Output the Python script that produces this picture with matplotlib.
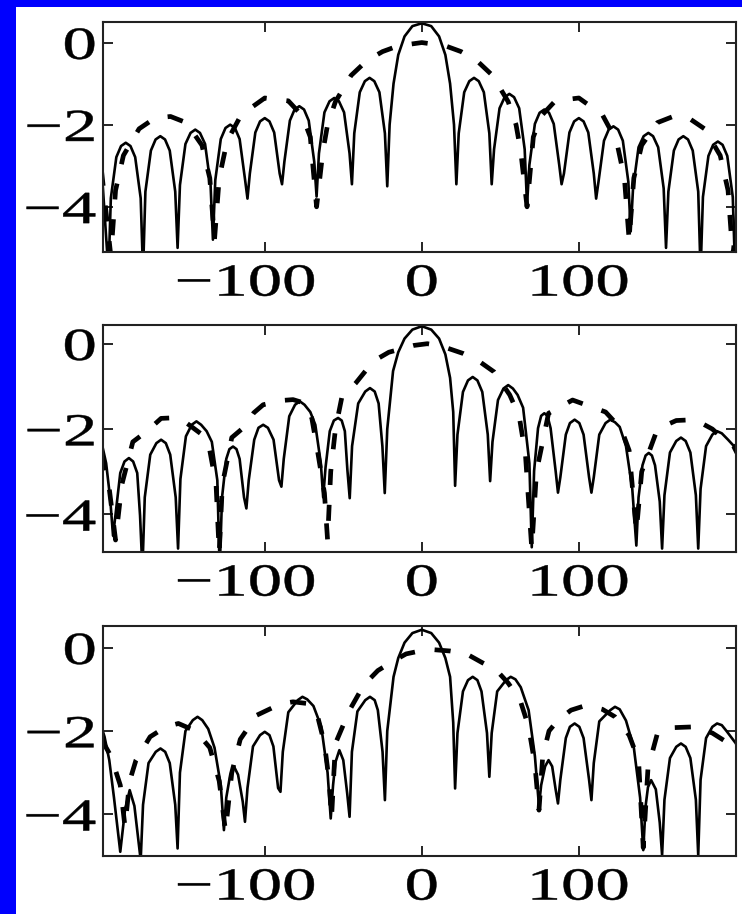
import matplotlib
matplotlib.use('Agg')
import matplotlib.pyplot as plt
import matplotlib.patheffects as pe
from matplotlib.transforms import Affine2D
from matplotlib.patches import Rectangle

plt.rcParams['font.family'] = ['Liberation Serif', 'DejaVu Serif']

# ---- data (x, log level) ----
p1_solid_x = [-204, -199.5,
              -198, -194.5, -191.5, -188.5, -185.5, -182.5, -179, -177.5,
              -176, -172.5, -169.5, -166.5, -163.5, -160.5, -157, -155.5,
              -154, -150.5, -147.25, -144.25, -141.25, -138, -134.5, -133,
              -131.5, -128, -125, -122, -119, -116, -112.5, -111,
              -109.5, -106, -103, -100, -97, -94, -90.5, -89,
              -87.5, -84, -81, -78, -75, -72, -68.5, -67,
              -65.5, -62, -58.75, -55.75, -52.75, -49.5, -46, -44.5,
              -43, -39.5, -36.25, -33.25, -30.25, -27, -23.5, -22,
              -20.5, -18, -15, -11, -6, 0, 6, 11, 15, 18, 20.5, 22,
              23.5, 27, 30.25, 33.25, 36.25, 39.5, 43, 44.5,
              46, 49.5, 52.75, 55.75, 58.75, 62, 65.5, 67,
              68.5, 72, 75, 78, 81, 84, 87.5, 89,
              90.5, 94, 97, 100, 103, 106, 109.5, 111,
              112.5, 116, 119, 122, 125, 128, 131.5, 133,
              134.5, 138, 141.25, 144.25, 147.25, 150.5, 154, 155.5,
              157, 160.5, 163.5, 166.5, 169.5, 172.5, 176, 177.5,
              179, 182.5, 185.5, 188.5, 191.5, 194.5, 198, 199.5,
              204]
p1_solid_y = [-3.0, -5.6,
              -3.79, -2.79, -2.52, -2.44, -2.52, -2.79, -3.79, -5.6,
              -3.63, -2.63, -2.36, -2.28, -2.36, -2.63, -3.63, -5.0,
              -3.47, -2.47, -2.2, -2.12, -2.2, -2.47, -3.47, -4.8,
              -3.35, -2.35, -2.08, -2.0, -2.08, -2.35, -3.35, -3.8,
              -3.19, -2.19, -1.92, -1.84, -1.92, -2.19, -3.19, -3.45,
              -2.9, -1.9, -1.63, -1.55, -1.63, -1.9, -2.9, -3.75,
              -2.7, -1.7, -1.43, -1.35, -1.43, -1.7, -2.7, -3.45,
              -2.21, -1.21, -0.94, -0.86, -0.94, -1.21, -2.21, -3.5,
              -2.0, -1.0, -0.3, 0.15, 0.4, 0.47, 0.4, 0.15, -0.3, -1.0, -2.0, -3.45,
              -2.21, -1.21, -0.94, -0.86, -0.94, -1.21, -2.21, -3.45,
              -2.6, -1.6, -1.33, -1.25, -1.33, -1.6, -2.6, -3.95,
              -2.98, -1.98, -1.71, -1.63, -1.71, -1.98, -2.98, -3.45,
              -3.19, -2.19, -1.92, -1.84, -1.92, -2.19, -3.19, -3.8,
              -3.39, -2.39, -2.12, -2.04, -2.12, -2.39, -3.39, -4.6,
              -3.55, -2.55, -2.28, -2.2, -2.28, -2.55, -3.55, -5.0,
              -3.63, -2.63, -2.36, -2.28, -2.36, -2.63, -3.63, -5.6,
              -3.76, -2.76, -2.49, -2.41, -2.49, -2.76, -3.76, -5.6,
              -3.0]
p1_dash_x = [-204, -198, -195, -190, -180, -170, -160, -150, -140, -135,
             -132, -129, -124, -115, -100, -85, -76, -71, -67, -63,
             -60, -55, -45, -35, -25, -15, 0, 15, 25, 35,
             45, 55, 60, 63, 67, 71, 76, 85, 100, 115,
             124, 129, 132, 135, 140, 150, 160, 170, 180, 190,
             195, 198, 204]
p1_dash_y = [-3.1, -5.2, -3.6, -2.75, -2.1, -1.84, -1.8, -1.95, -2.5, -3.3,
             -4.8, -3.3, -2.4, -1.76, -1.35, -1.42, -1.79, -2.3, -4.0, -2.65,
             -2.0, -1.44, -0.8, -0.44, -0.22, -0.08, 0.0, -0.08, -0.22, -0.44,
             -0.8, -1.44, -2.0, -2.65, -4.0, -2.3, -1.79, -1.42, -1.35, -1.76,
             -2.4, -3.3, -4.8, -3.3, -2.5, -1.95, -1.8, -1.84, -2.1, -2.75,
             -3.6, -5.2, -3.1]

p2_solid_x = [-204, -201, -198.5, -196.6,
              -195.1, -192, -189.3, -186.5, -183.8, -181.2, -179.4, -177.9,
              -176.4, -172.9, -169, -166, -163, -160.2, -156.7, -155.2,
              -153.7, -150.2, -146.5, -143.5, -140.5, -137, -133.7, -130.2, -128.7,
              -127.2, -124.5, -122.5, -120.2, -118, -116, -113.2, -111.7,
              -110.2, -106.7, -104, -101, -98, -94.4, -90.9, -89.4,
              -87.9, -84.4, -80.7, -77.7, -74.7, -71, -67.8, -64.3, -62.8,
              -61.3, -58.6, -56, -53.3, -51, -49, -47.4, -45.9,
              -44.4, -40.5, -36, -33, -30, -27.5, -25.1, -23.6,
              -22, -18.3, -15, -11, -6, 0, 6, 11, 15, 18, 20, 21.2,
              22.7, 26.2, 29.4, 32.4, 35.4, 38.5, 42, 43.5,
              45, 48.5, 52, 55, 58, 61, 64.5, 68.5, 70,
              71.5, 74, 76, 78, 80, 82, 85.2, 86.7,
              88.2, 91.7, 94.3, 97.3, 100.3, 103, 106.5, 108,
              109.5, 113, 117, 120, 123, 126, 130, 134, 136.6,
              138, 140.5, 142.5, 144.5, 146.5, 148.5, 151.5, 153,
              154.5, 158, 162, 165, 168, 171, 174.5, 176,
              177.5, 181, 185, 188, 191, 195, 200, 204]
p2_solid_y = [-2.3, -2.8, -3.6, -4.5,
              -4.03, -3.03, -2.76, -2.68, -2.76, -3.03, -4.03, -5.3,
              -3.6, -2.6, -2.33, -2.25, -2.33, -2.6, -3.6, -4.8,
              -3.17, -2.17, -1.9, -1.82, -1.9, -2.05, -2.3, -3.2, -5.3,
              -3.6, -2.7, -2.47, -2.41, -2.47, -2.7, -3.6, -3.86,
              -3.2, -2.25, -1.97, -1.9, -1.97, -2.25, -3.2, -3.35,
              -2.7, -1.7, -1.43, -1.35, -1.43, -1.6, -1.9, -2.8, -3.6,
              -2.9, -2.05, -1.8, -1.74, -1.8, -2.05, -2.95, -3.62,
              -2.4, -1.4, -1.12, -1.04, -1.12, -1.4, -2.4, -3.5,
              -2.0, -0.64, -0.2, 0.12, 0.33, 0.41, 0.33, 0.12, -0.25, -0.8, -1.6, -3.33,
              -2.13, -1.13, -0.86, -0.78, -0.86, -1.13, -2.13, -3.22,
              -2.3, -1.32, -1.05, -0.97, -1.05, -1.2, -1.5, -2.8, -4.77,
              -2.98, -1.98, -1.69, -1.63, -1.69, -1.98, -2.98, -3.49,
              -3.13, -2.13, -1.86, -1.78, -1.86, -2.13, -3.13, -3.49,
              -3.13, -2.13, -1.86, -1.78, -1.84, -1.95, -2.4, -3.4, -4.73,
              -3.6, -2.85, -2.62, -2.56, -2.62, -2.85, -3.7, -4.8,
              -3.55, -2.55, -2.28, -2.2, -2.28, -2.55, -3.55, -4.8,
              -3.4, -2.4, -2.13, -2.05, -2.1, -2.25, -2.45, -2.9]
p2_dash_x = [-204, -199, -195, -191, -184, -175, -166, -160, -153, -141,
             -135, -131, -129, -127, -121, -113, -107, -101, -89, -82,
             -74, -70, -66, -62, -60, -58, -55, -51, -42, -35,
             -29, -21, -14, -5, 3.5, 12, 20, 26.4, 36, 46,
             56, 62, 66, 70, 73, 80.7, 96, 117, 127, 132,
             136.6, 140, 150, 162, 174, 185, 192.5, 198.5, 204]
p2_dash_y = [-2.6, -3.4, -4.6, -3.3, -2.3, -2.05, -1.75, -1.74, -1.77, -2.1,
             -2.5, -3.3, -4.9, -3.3, -2.2, -1.95, -1.62, -1.43, -1.33, -1.31,
             -1.4, -1.75, -2.6, -3.5, -4.6, -3.0, -2.0, -1.27, -0.92, -0.6,
             -0.37, -0.2, -0.13, -0.04, 0.0, -0.05, -0.15, -0.23, -0.4, -0.66,
             -1.2, -1.7, -2.6, -4.8, -3.0, -1.63, -1.32, -1.6, -2.0, -2.5,
             -4.4, -3.0, -2.0, -1.8, -1.78, -2.0, -2.25, -2.4, -2.8]

p3_solid_x = [-204, -202, -199, -196, -192, -189, -186, -183, -179,
              -177.5, -174, -169.4, -166.4, -163.4, -160.5, -157, -155.5,
              -154, -150.5, -145.8, -142.8, -139.8, -136, -132, -128, -126,
              -124.5, -122, -119.5, -117, -114, -112.6,
              -111, -107.5, -103, -100, -97, -94.5, -91.5, -90,
              -88.5, -85, -79, -76, -73, -69, -64, -60, -58,
              -56.5, -55, -52.5, -50, -47.5, -46,
              -44.5, -41, -36, -33, -30, -28, -25, -23.5,
              -22, -18, -15, -11, -6, 0, 6, 11, 15, 18, 20, 21.2,
              22.7, 26.2, 29.4, 32.4, 35.4, 38, 41.5, 43,
              44.5, 48, 53.6, 56.6, 59.6, 63, 68, 72, 74.6,
              76, 78.5, 80.7, 83, 85.2, 86.7,
              88.2, 91.7, 94.3, 97.3, 100.3, 103, 106.5, 108,
              109.5, 113, 120, 123, 126, 130, 135, 139, 141,
              142.5, 144, 146, 149, 151.5, 153,
              154.5, 158, 162, 165, 168, 171, 174.5, 176,
              177.5, 181, 185, 188, 191, 194, 200, 204]
p3_solid_y = [-1.9, -2.14, -2.7, -3.6, -4.9, -3.9, -3.42, -3.8, -5.1,
              -3.77, -2.77, -2.5, -2.42, -2.5, -2.77, -3.77, -4.82,
              -3.0, -2.0, -1.74, -1.66, -1.74, -1.95, -2.4, -3.3, -4.38,
              -3.6, -3.05, -2.86, -3.05, -3.7, -4.18,
              -3.37, -2.37, -2.1, -2.02, -2.1, -2.37, -3.37, -3.46,
              -2.5, -1.55, -1.26, -1.18, -1.24, -1.4, -1.9, -3.0, -4.1,
              -3.3, -2.75, -2.46, -2.7, -3.5, -4.06,
              -2.5, -1.53, -1.26, -1.18, -1.26, -1.5, -2.5, -3.66,
              -2.0, -0.7, -0.25, 0.12, 0.35, 0.43, 0.35, 0.12, -0.25, -0.7, -1.8, -3.38,
              -2.05, -1.05, -0.78, -0.7, -0.78, -1.05, -2.05, -3.1,
              -2.05, -1.05, -0.78, -0.7, -0.76, -0.95, -1.5, -2.6, -3.8,
              -3.3, -2.85, -2.7, -2.85, -3.4, -3.74,
              -3.17, -2.17, -1.9, -1.82, -1.9, -2.17, -3.17, -3.66,
              -2.77, -1.77, -1.5, -1.42, -1.48, -1.75, -2.4, -3.6, -4.86,
              -3.8, -3.35, -3.18, -3.4, -4.2, -4.98,
              -3.65, -2.65, -2.38, -2.3, -2.38, -2.65, -3.65, -4.98,
              -3.17, -2.17, -1.9, -1.82, -1.86, -2.0, -2.3, -2.8]
p3_dash_x = [-204, -198, -192, -189, -186, -182, -173, -163, -155, -144,
             -135, -129, -125, -121, -115.6, -105, -90, -82, -73, -66,
             -62, -59, -57.5, -55, -46, -37, -28, -19, -10, 0,
             8, 18, 28, 38, 47.5, 55, 62.6, 68, 72, 74.6,
             77, 81, 86.7, 95, 105, 115, 123, 132, 138, 141,
             144, 150, 160, 174, 185, 195.5, 204]
p3_dash_y = [-2.2, -2.6, -3.3, -4.3, -3.2, -2.7, -2.14, -1.9, -1.82, -2.0,
             -2.4, -3.2, -4.4, -3.0, -2.2, -1.62, -1.35, -1.3, -1.34, -1.7,
             -2.3, -3.2, -4.1, -2.3, -1.5, -0.9, -0.55, -0.34, -0.15, -0.07,
             -0.05, -0.08, -0.14, -0.35, -0.54, -0.85, -1.26, -1.9, -2.8, -3.9,
             -2.6, -2.0, -1.74, -1.5, -1.38, -1.48, -1.66, -2.1, -2.7, -4.8,
             -2.9, -2.06, -1.92, -1.9, -2.05, -2.3, -2.7]

x_ticks = [-100, 0, 100]
x_labels = ['\u2212100', '0', '100']
y_ticks = [0, -2, -4]
y_labels = ['0', '\u22122', '\u22124']


class Stretch(pe.AbstractPathEffect):
    # the tick numbers in the picture are drawn wide
    def __init__(self, sx=1.5, anchor='center', dx=0, lw=0.35):
        super().__init__()
        self.sx = sx
        self.anchor = anchor
        self.dx = dx
        self.lw = lw

    def draw_path(self, renderer, gc, tpath, affine, rgbFace=None):
        ext = tpath.get_extents(affine)
        x0 = ext.x1 if self.anchor == 'right' else (ext.x0 + ext.x1) / 2
        t = affine + Affine2D().translate(-x0, 0).scale(self.sx, 1).translate(x0 + self.dx, 0)
        gc0 = renderer.new_gc()
        gc0.copy_properties(gc)
        gc0.set_linewidth(self.lw)
        gc0.set_foreground(rgbFace)
        renderer.draw_path(gc0, tpath, t, rgbFace)
        gc0.restore()


fig = plt.figure(figsize=(7.42, 9.14), dpi=100)
fig.patch.set_facecolor('#0000fe')
fig.add_artist(Rectangle((16 / 742, 0), 1, 1 - 7 / 914, transform=fig.transFigure,
                         facecolor='white', edgecolor='none', zorder=-5))

panels = [
    (p1_solid_x, p1_solid_y, p1_dash_x, p1_dash_y, 0.7243, 0.2516, (-5.1, 0.5)),
    (p2_solid_x, p2_solid_y, p2_dash_x, p2_dash_y, 0.3961, 0.2484, (-4.88, 0.44)),
    (p3_solid_x, p3_solid_y, p3_dash_x, p3_dash_y, 0.0635, 0.2516, (-5.0, 0.52)),
]

for sx, sy, dx, dy, bottom, height, ylim in panels:
    ax = fig.add_axes([0.1388, bottom, 0.853, height])
    ax.plot(sx, sy, color='black', lw=1.9)
    ax.plot(dx, dy, color='black', lw=3.4, dashes=(3.4, 4.2))
    ax.set_xlim(-203, 200)
    ax.set_ylim(*ylim)
    ax.set_xticks(x_ticks)
    ax.set_xticklabels(x_labels)
    ax.set_yticks(y_ticks)
    ax.set_yticklabels(y_labels)
    ax.tick_params(direction='in', length=7, width=1.2, top=True, right=True,
                   labelsize=33, colors='black')
    ax.tick_params(axis='x', pad=8)
    ax.tick_params(axis='y', pad=5)
    for s in ax.spines.values():
        s.set_linewidth(1.5)
        s.set_color('#222222')
    for i, lab in enumerate(ax.get_xticklabels()):
        lab.set_path_effects([Stretch(1.5, 'center', dx=-19 if i == 0 else 0)])
    for lab in ax.get_yticklabels():
        lab.set_path_effects([Stretch(1.5, 'right')])

fig.savefig('out.png', dpi=100, facecolor=fig.get_facecolor())
